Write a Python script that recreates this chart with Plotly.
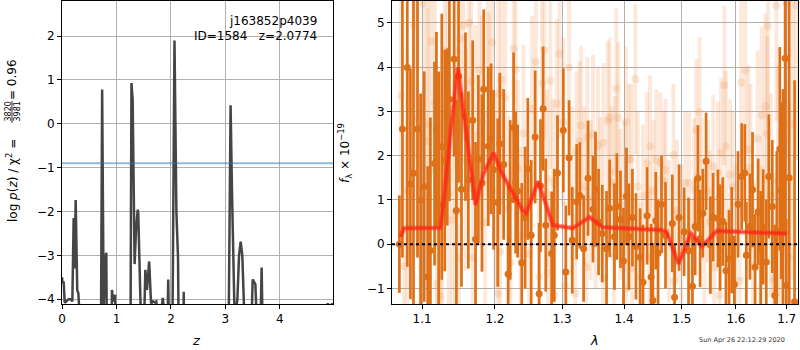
import plotly.graph_objects as go

# ---- redshift probability curve (left panel) ----
z_grid = [0.00, 0.01, 0.03, 0.05, 0.08, 0.12, 0.16, 0.19, 0.214, 0.232, 0.251, 0.28, 0.30, 0.32,
          0.71, 0.737, 0.765, 0.795, 0.813, 0.83,
          0.90, 0.917, 0.94, 0.975, 0.99,
          1.24, 1.26, 1.275, 1.297, 1.315, 1.333, 1.36, 1.39, 1.40, 1.43,
          1.48, 1.53, 1.56, 1.60, 1.635, 1.67, 1.70, 1.73, 1.76,
          1.82, 1.85, 1.88, 1.92, 1.95, 1.98,
          2.02, 2.065, 2.10, 2.13, 2.15,
          2.21, 2.235, 2.25,
          3.05, 3.095, 3.12, 3.17, 3.22, 3.25, 3.28, 3.31, 3.35,
          3.45, 3.50, 3.55, 3.62, 3.665, 3.70,
          4.85, 4.88, 4.91, 4.96, 4.99]
log_pz = [-3.50, -3.62, -3.60, -4.08, -4.05, -4.00, -4.00, -4.05, -2.15, -3.30, -1.74, -3.80, -3.86, -4.30,
          -6.0, 0.78, -4.20, -3.05, -2.94, -6.0,
          -6.0, -3.79, -4.05, -3.90, -6.0,
          -6.0, -4.10, 0.93, 0.55, -2.00, -3.20, -2.40, -1.96, -2.05, -6.0,
          -6.0, -3.33, -3.79, -3.14, -4.10, -4.05, -4.07, -4.05, -4.30,
          -4.30, -3.97, -4.30, -6.0, -3.55, -6.0,
          -6.0, 1.90, -2.00, -3.06, -6.0,
          -6.0, -3.83, -6.0,
          -6.0, 0.42, -1.50, -4.50, -4.00, -3.00, -2.69, -3.00, -4.50,
          -6.0, -3.55, -3.66, -6.0, -3.28, -6.0,
          -4.20, -4.10, -4.20, -4.10, -4.20]
chi2_level = -0.9

# ---- 1D spectrum (right panel), flux in 1e-19 units ----
dark_wave = [1.0706, 1.0745, 1.0808, 1.0848, 1.0888, 1.0940, 1.0981, 1.1028, 1.1074, 1.1110,
             1.1165, 1.1190, 1.1220, 1.1262, 1.1302, 1.1336, 1.1365, 1.1429, 1.1460, 1.1490,
             1.1530, 1.1585, 1.1625, 1.1685, 1.1725, 1.1765, 1.1815, 1.1840, 1.1905, 1.1945,
             1.1980, 1.2040, 1.2070, 1.2125, 1.2190, 1.2220, 1.2270, 1.2300, 1.2330, 1.2390,
             1.2440, 1.2480, 1.2530, 1.2590, 1.2650, 1.2670, 1.2710, 1.2750, 1.2840, 1.2880,
             1.2930, 1.3020, 1.3060, 1.3110, 1.3160, 1.3230, 1.3280, 1.3340, 1.3410, 1.3490,
             1.3530, 1.3580, 1.3640, 1.3710, 1.3760, 1.3840, 1.3880, 1.3940, 1.3990, 1.4040,
             1.4080, 1.4140, 1.4200, 1.4270, 1.4320, 1.4390, 1.4460, 1.4490, 1.4540, 1.4580,
             1.4640, 1.4710, 1.4830, 1.4870, 1.4950, 1.5040, 1.5120, 1.5190, 1.5240, 1.5290,
             1.5330, 1.5380, 1.5440, 1.5520, 1.5570, 1.5660, 1.5700, 1.5750, 1.5810, 1.5870,
             1.5920, 1.5970, 1.6040, 1.6110, 1.6170, 1.6200, 1.6270, 1.6320, 1.6370, 1.6430,
             1.6480, 1.6530, 1.6590, 1.6640, 1.6710, 1.6760, 1.6800, 1.6860, 1.6890, 1.6925,
             1.6970, 1.6990, 1.7050, 1.7160]
dark_flux = [0.00, 2.60, 3.99, 1.36, 1.60, 2.60, 1.00, 1.30, -0.74, -0.14,
             1.82, 2.59, 0.90, 2.20, 1.89, 2.42, 3.27, 4.18, 0.76, 3.79,
             1.24, 2.88, 1.45, 2.80, 0.11, 1.92, 1.38, 3.50, 2.21, 2.38,
             1.68, 0.94, 2.27, 1.80, -0.67, 1.00, 2.63, 1.39, 1.20, -0.42,
             0.60, 1.70, 0.20, 2.42, -1.12, 1.32, 3.06, 0.43, -0.21, 0.20,
             1.61, 2.57, -0.63, 1.95, 0.09, 0.96, 1.10, -0.10, 1.49, 0.79,
             1.24, 0.50, 0.24, -0.10, 0.81, 0.17, 0.85, 0.56, -0.38, 1.08,
             0.17, 0.60, -0.05, -0.29, -0.86, 0.64, -0.74, -1.27, 0.53, -0.20,
             0.90, 0.20, 0.47, -1.20, 0.60, 0.28, -0.15, -0.95, 0.40, 1.49,
             0.13, 0.70, 1.87, -0.02, 0.61, 0.58, 0.15, 0.51, -0.60, -0.33,
             0.09, -0.91, 0.90, 1.53, 1.61, -0.25, 0.40, 1.23, -0.52, 0.73,
             -0.10, 0.39, -0.40, 1.53, 0.85, -1.16, 0.30, 2.15, 1.21, 0.50,
             4.20, -0.93, 1.50, -1.30]
dark_err = [1.10, 2.90, 4.50, 2.60, 4.00, 2.90, 2.40, 2.60, 2.50, 3.00,
            2.30, 2.20, 3.00, 3.00, 2.50, 2.00, 2.30, 2.20, 2.50, 2.40,
            2.20, 1.90, 2.00, 1.80, 2.20, 1.90, 2.00, 1.80, 1.80, 1.70,
            1.80, 1.90, 1.60, 1.70, 2.00, 1.80, 1.70, 1.60, 1.50, 1.80,
            1.60, 1.60, 1.70, 1.50, 1.60, 1.50, 1.40, 1.50, 1.40, 1.50,
            1.30, 1.40, 1.50, 1.30, 1.20, 1.30, 1.20, 1.20, 1.30, 1.20,
            1.30, 1.20, 1.10, 1.30, 1.10, 1.20, 1.20, 1.10, 1.20, 1.10,
            1.20, 1.10, 1.20, 1.10, 1.30, 1.10, 1.20, 1.30, 1.10, 1.20,
            1.10, 1.20, 1.10, 1.20, 1.20, 1.00, 1.20, 1.10, 1.10, 1.20,
            1.10, 1.00, 1.10, 1.10, 1.00, 1.10, 1.20, 1.00, 1.10, 1.10,
            1.20, 1.10, 1.20, 1.20, 1.10, 1.20, 1.20, 1.30, 1.20, 1.20,
            1.30, 1.30, 1.40, 1.40, 1.50, 1.60, 1.80, 2.30, 2.00, 3.00,
            4.00, 1.50, 4.50, 5.00]

light_wave = [1.0727, 1.0770, 1.0808, 1.0890, 1.0940, 1.0980, 1.1022, 1.1070, 1.1085, 1.1125,
              1.1170, 1.1193, 1.1220, 1.1245, 1.1262, 1.1302, 1.1336, 1.1355, 1.1400, 1.1445,
              1.1465, 1.1495, 1.1515, 1.1560, 1.1590, 1.1635, 1.1665, 1.1690, 1.1725, 1.1780,
              1.1815, 1.1860, 1.1900, 1.1910, 1.1960, 1.2000, 1.2040, 1.2050, 1.2075, 1.2090,
              1.2145, 1.2200, 1.2225, 1.2270, 1.2300, 1.2330, 1.2370, 1.2415, 1.2500, 1.2545,
              1.2600, 1.2650, 1.2695, 1.2730, 1.2770, 1.2785, 1.2820, 1.2860, 1.2880, 1.2920,
              1.2960, 1.3020, 1.3045, 1.3110, 1.3150, 1.3210, 1.3225, 1.3275, 1.3300, 1.3350,
              1.3385, 1.3400, 1.3450, 1.3490, 1.3530, 1.3570, 1.3610, 1.3650, 1.3660, 1.3730,
              1.3760, 1.3790, 1.3830, 1.3845, 1.3870, 1.3900, 1.3940, 1.4010, 1.4030, 1.4040,
              1.4080, 1.4120, 1.4130, 1.4190, 1.4230, 1.4280, 1.4320, 1.4390, 1.4430, 1.4440,
              1.4500, 1.4550, 1.4620, 1.4680, 1.4710, 1.4770, 1.4850, 1.4860, 1.4910, 1.4990,
              1.5060, 1.5130, 1.5180, 1.5220, 1.5260, 1.5320, 1.5360, 1.5410, 1.5470, 1.5510,
              1.5570, 1.5590, 1.5660, 1.5690, 1.5720, 1.5780, 1.5810, 1.5850, 1.5890, 1.5940,
              1.5990, 1.6070, 1.6100, 1.6180, 1.6240, 1.6280, 1.6330, 1.6420, 1.6490, 1.6500,
              1.6570, 1.6610, 1.6625, 1.6680, 1.6730, 1.6790, 1.6825, 1.6890, 1.6970, 1.6990,
              1.7050, 1.7120, 1.7190]
light_flux = [3.35, -0.50, 1.20, 4.94, 2.86, 0.40, 5.43, 2.33, 2.70, 4.58,
              3.18, -0.90, 0.62, -1.18, 0.17, 4.37, 3.84, 1.15, 0.55, 0.73,
              4.37, -0.30, 4.64, 4.94, 1.90, 5.00, 3.67, -0.30, 2.44, 3.94,
              2.76, 0.50, 3.50, 2.93, 4.56, 1.20, -1.12, 3.41, -0.17, 3.71,
              3.31, 0.80, -0.40, 4.42, 3.94, 1.70, 0.20, 2.50, -0.21, 3.05,
              4.12, -0.74, 3.64, 4.37, 1.49, -0.65, 3.69, 1.39, -1.16, 3.17,
              4.30, 2.76, -0.93, 3.99, 1.20, -1.12, 2.10, 2.33, 2.68, 1.30,
              -0.52, 2.42, 1.00, 2.48, 0.70, 2.21, 1.17, -0.78, 2.29, 2.78,
              2.86, 1.40, -0.29, 1.64, 3.52, 2.86, 0.90, 1.09, 2.76, -1.00,
              1.92, 1.91, -0.55, 3.73, 1.30, -0.74, 1.10, 1.83, -0.29, 2.21,
              1.20, 1.90, 1.83, 1.42, 1.68, 0.30, 2.02, -0.84, 0.76, 0.20,
              1.39, 1.38, -0.60, 1.24, 2.58, 2.98, 1.26, 0.00, 1.19, 0.50,
              1.76, -0.52, 1.62, -1.16, 2.06, 3.59, 2.21, -0.90, 1.57, 1.29,
              0.10, -0.82, 3.65, 3.92, 2.14, 1.72, -0.50, 2.38, -0.21, 2.91,
              3.11, 2.50, 4.92, 1.11, -0.80, 5.38, 1.42, 0.20, 2.73, 5.43,
              -0.30, 2.70, 5.40]
light_err = [3.5, 3.0, 3.2, 3.0, 3.0, 3.0, 3.2, 3.0, 3.0, 3.0,
             2.8, 2.6, 2.8, 2.5, 2.7, 2.8, 2.7, 2.7, 2.6, 2.6,
             2.7, 2.5, 2.7, 2.6, 2.5, 2.6, 2.5, 2.3, 2.5, 2.4,
             2.4, 2.3, 2.3, 2.3, 2.3, 2.2, 2.2, 2.2, 2.2, 2.2,
             2.2, 2.1, 2.1, 2.1, 2.1, 2.0, 2.0, 2.0, 2.0, 2.1,
             2.1, 2.0, 2.0, 2.0, 2.0, 1.9, 2.0, 1.9, 1.9, 1.9,
             1.9, 1.9, 1.9, 1.9, 1.9, 1.8, 1.8, 1.8, 1.8, 1.8,
             1.8, 1.8, 1.8, 1.8, 1.7, 1.8, 1.7, 1.7, 1.8, 1.8,
             1.8, 1.7, 1.7, 1.7, 1.8, 1.7, 1.7, 1.7, 1.7, 1.7,
             1.7, 1.7, 1.7, 1.7, 1.7, 1.7, 1.6, 1.6, 1.6, 1.6,
             1.6, 1.6, 1.6, 1.6, 1.6, 1.6, 1.6, 1.6, 1.6, 1.6,
             1.6, 1.6, 1.6, 1.6, 1.6, 1.7, 1.6, 1.6, 1.6, 1.6,
             1.6, 1.6, 1.6, 1.6, 1.7, 1.8, 1.7, 1.7, 1.7, 1.7,
             1.7, 1.8, 1.9, 1.9, 1.9, 1.9, 1.9, 2.0, 2.0, 2.0,
             2.1, 2.2, 2.3, 2.3, 2.4, 2.6, 2.6, 2.8, 3.0, 3.2,
             3.5, 3.5, 3.5]

model_wave = [1.072, 1.0766, 1.1244, 1.129, 1.138, 1.148, 1.1725, 1.184, 1.198, 1.210,
              1.240, 1.2456, 1.2634, 1.286, 1.3166, 1.3435, 1.365, 1.462, 1.473, 1.494,
              1.516, 1.5364, 1.564, 1.700]
model_flux = [0.17, 0.36, 0.37, 1.00, 2.50, 3.99, 0.89, 1.60, 2.06, 1.60,
              0.77, 0.70, 1.42, 0.43, 0.36, 0.61, 0.38, 0.32, 0.28, -0.44,
              0.24, -0.05, 0.30, 0.24]

z_ticks = [0, 1, 2, 3, 4]
logp_ticks = [-4, -3, -2, -1, 0, 1, 2]
wave_ticks = [1.1, 1.2, 1.3, 1.4, 1.5, 1.6, 1.7]
flux_ticks = [-1, 0, 1, 2, 3, 4, 5]

FONT = "DejaVu Sans"
FS = 12
DARK = "rgb(222,112,24)"
LIGHT = "rgba(238,140,66,0.19)"

fig = go.Figure()

# left: p(z)
fig.add_trace(go.Scatter(x=z_grid, y=log_pz, mode="lines",
                         line=dict(color="#454545", width=2.5),
                         xaxis="x", yaxis="y", showlegend=False, hoverinfo="skip"))

# right: spectrum, faint unbinned points first
fig.add_trace(go.Scatter(x=light_wave, y=light_flux, mode="markers",
                         marker=dict(color=LIGHT, size=8, line=dict(width=0)),
                         error_y=dict(type="data", array=light_err, color=LIGHT,
                                      thickness=4, width=0),
                         xaxis="x2", yaxis="y2", showlegend=False))
fig.add_trace(go.Scatter(x=dark_wave, y=dark_flux, mode="markers",
                         marker=dict(color=DARK, size=7, line=dict(width=0)),
                         error_y=dict(type="data", array=dark_err, color=DARK,
                                      thickness=2.7, width=0),
                         xaxis="x2", yaxis="y2", showlegend=False))
fig.add_trace(go.Scatter(x=model_wave, y=model_flux, mode="lines",
                         line=dict(color="rgba(255,40,25,0.45)", width=5),
                         xaxis="x2", yaxis="y2", showlegend=False))
fig.add_trace(go.Scatter(x=model_wave, y=model_flux, mode="lines",
                         line=dict(color="rgba(255,35,20,0.7)", width=2.5),
                         xaxis="x2", yaxis="y2", showlegend=False))

axis_common = dict(showgrid=True, gridcolor="#b0b0b0", gridwidth=1,
                   showline=True, linecolor="black", linewidth=1, mirror=True,
                   ticks="outside", ticklen=4, tickcolor="black", zeroline=False,
                   automargin=False,
                   tickfont=dict(family=FONT, size=FS, color="black"))

y_dom = [1 - 304 / 350, 1 - 1 / 350]
fig.update_layout(
    width=800, height=350,
    margin=dict(l=0, r=0, t=0, b=0),
    paper_bgcolor="white", plot_bgcolor="white",
    xaxis=dict(domain=[62 / 800, 333 / 800], range=[0, 4.975], tickvals=z_ticks,
               anchor="y", **axis_common),
    yaxis=dict(domain=y_dom, range=[-4.11, 2.8], tickvals=logp_ticks,
               anchor="x", **axis_common),
    xaxis2=dict(domain=[392 / 800, 798 / 800], type="log", range=[0.0258, 0.2363],
                tickvals=wave_ticks, ticktext=[f"{v:.1f}" for v in wave_ticks],
                anchor="y2", **axis_common),
    yaxis2=dict(domain=y_dom, range=[-1.35, 5.49], tickvals=flux_ticks,
                anchor="x2", **axis_common),
)

# reference lines
fig.add_shape(type="line", xref="x domain", yref="y", x0=0, x1=1,
              y0=chi2_level, y1=chi2_level,
              line=dict(color="rgba(31,119,180,0.5)", width=2))
fig.add_shape(type="line", xref="x2 domain", yref="y2", x0=0, x1=1, y0=0, y1=0,
              line=dict(color="black", width=2, dash="dot"))

def py(px):
    return 1 - px / 350

ann = []
# object labels
ann.append(dict(x=319 / 800, y=py(21), text="j163852p4039", xanchor="right", yanchor="middle",
                font=dict(family=FONT, size=FS, color="black")))
ann.append(dict(x=319 / 800, y=py(35.5), text="ID=1584   z=2.0774", xanchor="right",
                yanchor="middle", font=dict(family=FONT, size=FS, color="black")))
# axis titles
ann.append(dict(x=196 / 800, y=py(340), text="<i>z</i>", xanchor="center", yanchor="middle",
                font=dict(family=FONT, size=13, color="black")))
ann.append(dict(x=594 / 800, y=py(340), text="<i>λ</i>", xanchor="center", yanchor="middle",
                font=dict(family=FONT, size=13, color="black")))
ann.append(dict(x=12 / 800, y=py(181), text="log <i>p</i>(<i>z</i>) / χ<sup>2</sup> =",
                textangle=-90, xanchor="center", yanchor="middle",
                font=dict(family=FONT, size=FS, color="black")))
ann.append(dict(x=7.5 / 800, y=py(112), text="3820", textangle=-90, xanchor="center",
                yanchor="middle", font=dict(family=FONT, size=8, color="black")))
ann.append(dict(x=16.5 / 800, y=py(112), text="3981", textangle=-90, xanchor="center",
                yanchor="middle", font=dict(family=FONT, size=8, color="black")))
ann.append(dict(x=12 / 800, y=py(80), text="= 0.96", textangle=-90, xanchor="center",
                yanchor="middle", font=dict(family=FONT, size=FS, color="black")))
ann.append(dict(x=345 / 800, y=py(153), text="<i>f</i><sub>λ</sub> × 10<sup>−19</sup>",
                textangle=-90, xanchor="center", yanchor="middle",
                font=dict(family=FONT, size=FS, color="black")))
ann.append(dict(x=742 / 800, y=py(339.5), text="Sun Apr 26 22:12:29 2020", xanchor="center",
                yanchor="middle", font=dict(family=FONT, size=6.5, color="#333333")))
for a in ann:
    a.update(xref="paper", yref="paper", showarrow=False)
fig.update_layout(annotations=ann)

# fraction bar
fig.add_shape(type="line", xref="paper", yref="paper", x0=12 / 800, x1=12 / 800,
              y0=py(101), y1=py(123), line=dict(color="black", width=0.8))

fig.write_html("out.html")
